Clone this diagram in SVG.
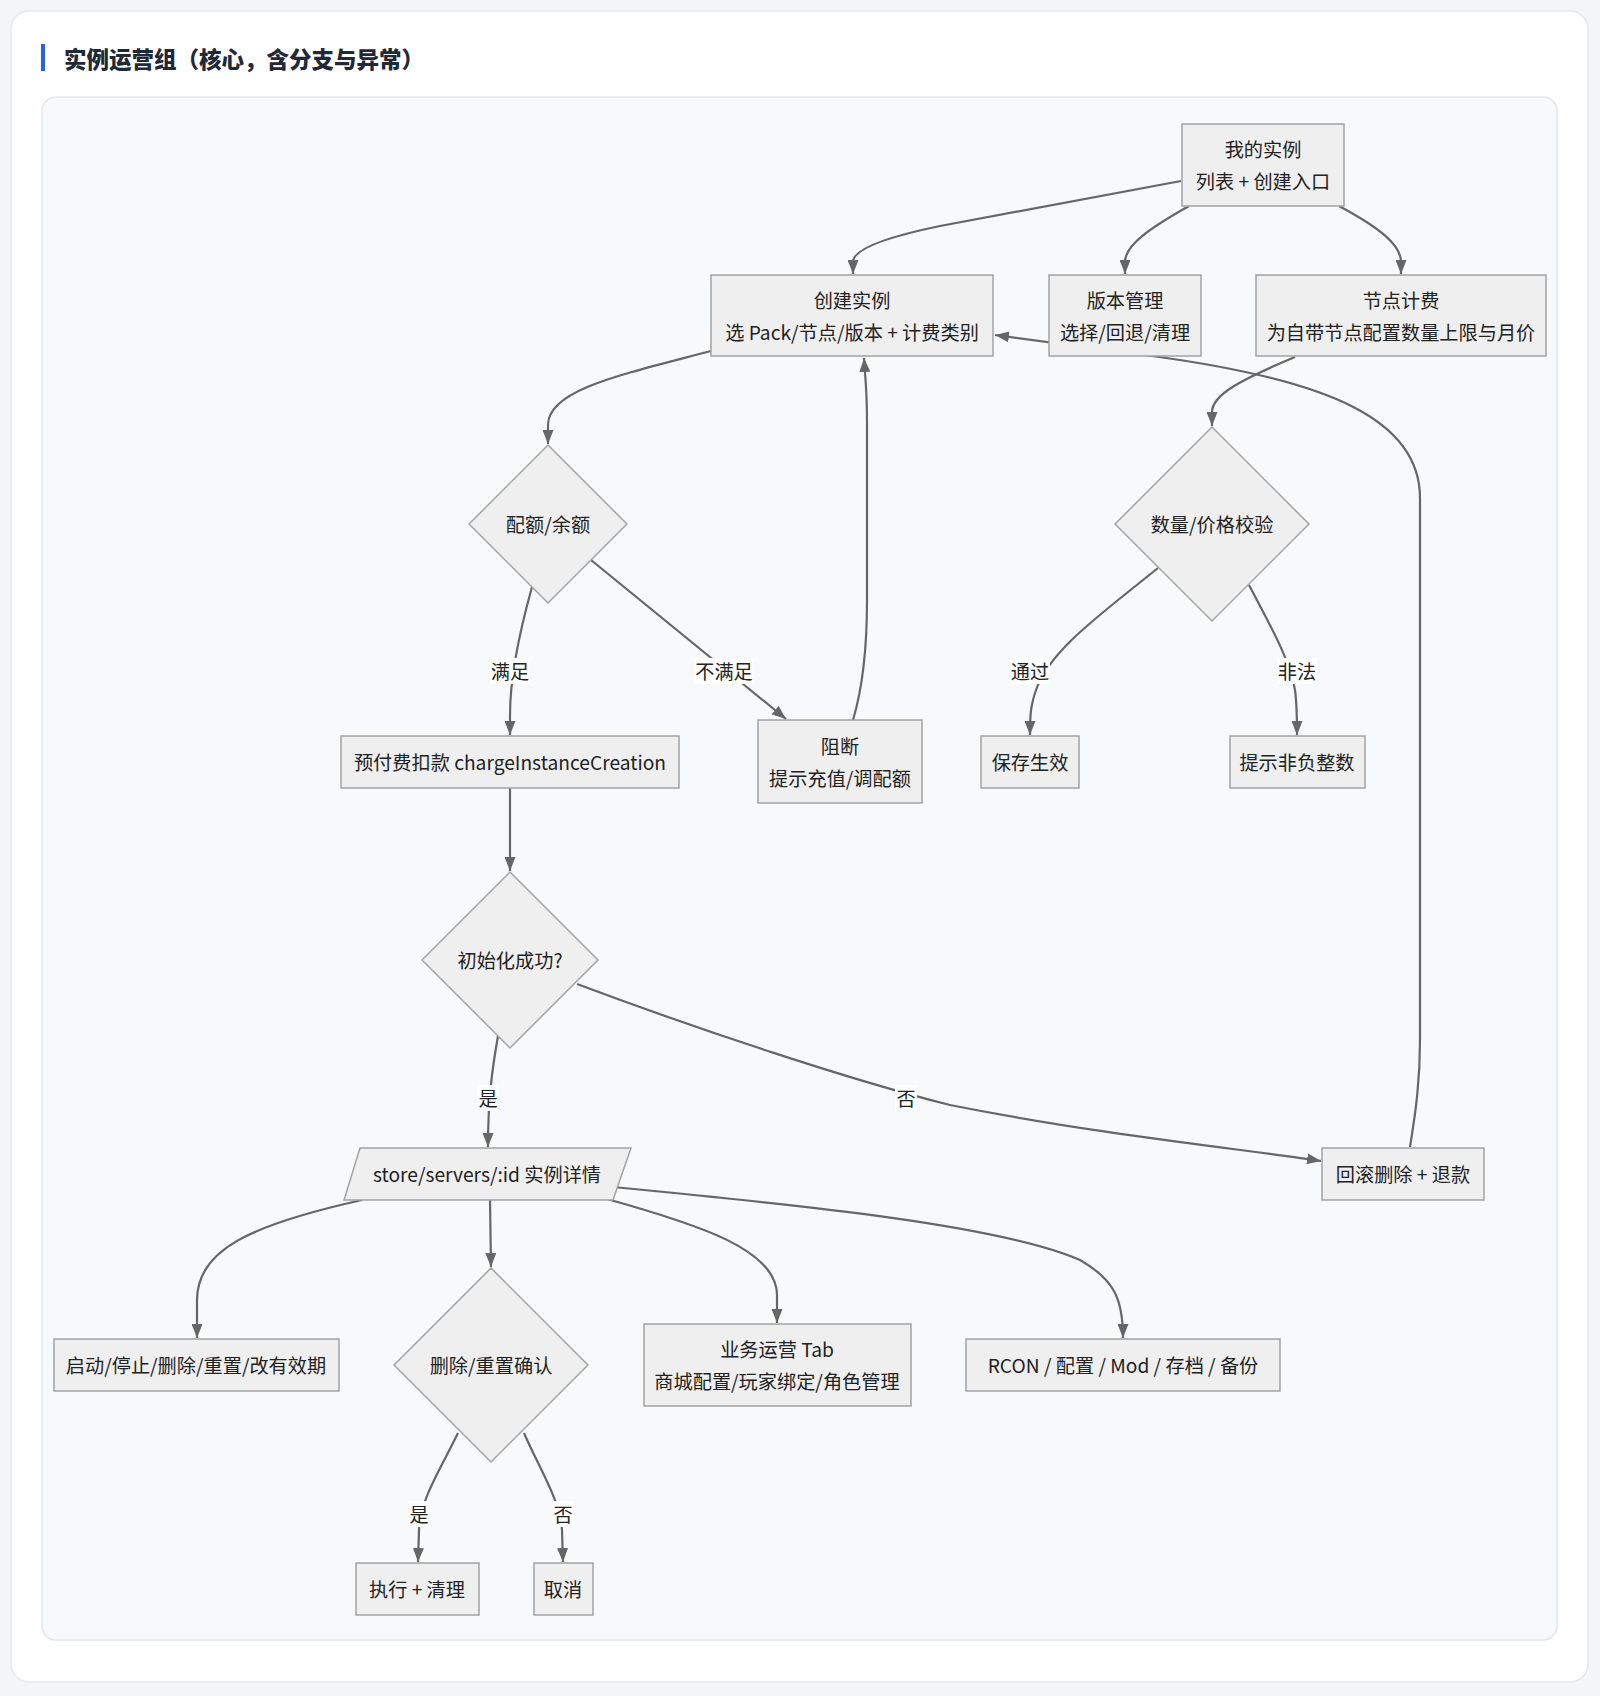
<svg xmlns="http://www.w3.org/2000/svg" width="1600" height="1696" viewBox="0 0 1600 1696">
<defs>
<style>
.node rect,.node polygon{fill:#efefef;stroke:#a3a3a3;stroke-width:1.5}
.t{font-family:"Noto Sans CJK SC","Noto Sans",sans-serif;font-size:19.2px;fill:#222;text-anchor:middle;dominant-baseline:central}
.e{fill:none;stroke:#666;stroke-width:2.2}
.lb{fill:#ffffff}
</style>
<marker id="arr" viewBox="0 0 14 11" refX="14" refY="5.5" markerWidth="14" markerHeight="11" markerUnits="userSpaceOnUse" orient="auto">
<path d="M0,0 L14,5.5 L0,11 z" fill="#666"/>
</marker>
</defs>
<rect x="0" y="0" width="1600" height="1696" fill="#f4f5f7"/>
<rect x="11" y="11" width="1577" height="1671" rx="18" fill="#ffffff" stroke="#e5e7eb" stroke-width="1.5"/>
<rect x="41" y="44" width="4" height="27" fill="#2563eb"/>
<text x="64" y="58" font-family="'Noto Sans CJK SC','Noto Sans',sans-serif" font-size="22.5" font-weight="900" fill="#1f2937" dominant-baseline="central">实例运营组（核心，含分支与异常）</text>
<rect x="42" y="97" width="1515" height="1543" rx="14" fill="#f8f9fb" stroke="#e5e7eb" stroke-width="1.5"/>

<g id="connectors">
<path class="e" d="M1181,181 L940,226 Q853,244 853,262 L853,274" marker-end="url(#arr)"/>
<path class="e" d="M1189,206 C1150,228 1125,245 1125,262 L1125,274" marker-end="url(#arr)"/>
<path class="e" d="M1339,206 C1380,228 1401,245 1401,262 L1401,274" marker-end="url(#arr)"/>
<path class="e" d="M1410,1147 C1416,1110 1420,1080 1420,1040 L1420,498 C1420,420 1330,380 1152,356 L995,335" marker-end="url(#arr)"/>
<path class="e" d="M1295,357 C1240,380 1212,395 1212,412 L1212,426" marker-end="url(#arr)"/>
<path class="e" d="M711,351 C620,375 548,390 548,425 L548,444" marker-end="url(#arr)"/>
<path class="e" d="M532,587 C520,630 510,680 510,715 L510,735" marker-end="url(#arr)"/>
<path class="e" d="M591,560 L786,719" marker-end="url(#arr)"/>
<path class="e" d="M853,720 C862,690 867,650 867,600 L867,420 C867,390 865,375 864,358" marker-end="url(#arr)"/>
<path class="e" d="M1158,568 C1100,615 1050,650 1036,690 C1031,705 1030,712 1030,735" marker-end="url(#arr)"/>
<path class="e" d="M1249,585 C1270,625 1290,660 1295,690 C1297,705 1297,712 1297,735" marker-end="url(#arr)"/>
<path class="e" d="M510,788 L510,871" marker-end="url(#arr)"/>
<path class="e" d="M498,1036 C492,1070 488,1100 488,1147" marker-end="url(#arr)"/>
<path class="e" d="M577,984 C700,1030 850,1080 950,1105 C1100,1135 1250,1150 1321,1161" marker-end="url(#arr)"/>
<path class="e" d="M362,1200 C250,1225 197,1250 197,1300 L197,1338" marker-end="url(#arr)"/>
<path class="e" d="M490,1200 L491,1267" marker-end="url(#arr)"/>
<path class="e" d="M607,1199 C700,1225 777,1250 777,1295 L777,1323" marker-end="url(#arr)"/>
<path class="e" d="M613,1187 C800,1205 1000,1225 1080,1260 C1115,1280 1123,1300 1123,1338" marker-end="url(#arr)"/>
<path class="e" d="M458,1433 C440,1470 420,1500 419,1530 L418,1562" marker-end="url(#arr)"/>
<path class="e" d="M524,1433 C540,1470 560,1500 562,1530 L563,1562" marker-end="url(#arr)"/>
<g id="edge-labels">
<rect class="lb" x="490" y="658" width="40" height="26"/><text class="t" x="510" y="671">满足</text>
<rect class="lb" x="694" y="658" width="60" height="26"/><text class="t" x="724" y="671">不满足</text>
<rect class="lb" x="1010" y="658" width="40" height="26"/><text class="t" x="1030" y="671">通过</text>
<rect class="lb" x="1277" y="658" width="40" height="26"/><text class="t" x="1297" y="671">非法</text>
<rect class="lb" x="477" y="1085" width="22" height="26"/><text class="t" x="488" y="1098">是</text>
<rect class="lb" x="895" y="1085" width="22" height="26"/><text class="t" x="906" y="1098">否</text>
<rect class="lb" x="408" y="1501" width="22" height="26"/><text class="t" x="419" y="1514">是</text>
<rect class="lb" x="552" y="1501" width="22" height="26"/><text class="t" x="563" y="1514">否</text>
</g>
</g>

<g id="n-my" class="node"><rect x="1182" y="124" width="162" height="82"/><text class="t" x="1263" y="149">我的实例</text><text class="t" x="1263" y="181">列表 + 创建入口</text></g>
<g id="n-create" class="node"><rect x="711" y="275" width="282" height="81"/><text class="t" x="852" y="300">创建实例</text><text class="t" x="852" y="332">选 Pack/节点/版本 + 计费类别</text></g>
<g id="n-version" class="node"><rect x="1049" y="275" width="152" height="81"/><text class="t" x="1125" y="300">版本管理</text><text class="t" x="1125" y="332">选择/回退/清理</text></g>
<g id="n-billing" class="node"><rect x="1256" y="275" width="290" height="81"/><text class="t" x="1401" y="300">节点计费</text><text class="t" x="1401" y="332">为自带节点配置数量上限与月价</text></g>
<g id="n-quota" class="node"><polygon points="548,445 627,524 548,603 469,524"/><text class="t" x="548" y="524">配额/余额</text></g>
<g id="n-validate" class="node"><polygon points="1212,427 1309,524 1212,621 1115,524"/><text class="t" x="1212" y="524">数量/价格校验</text></g>
<g id="n-charge" class="node"><rect x="341" y="736" width="338" height="52"/><text class="t" x="510" y="762">预付费扣款 chargeInstanceCreation</text></g>
<g id="n-block" class="node"><rect x="758" y="720" width="164" height="83"/><text class="t" x="840" y="746">阻断</text><text class="t" x="840" y="778">提示充值/调配额</text></g>
<g id="n-save" class="node"><rect x="981" y="736" width="98" height="52"/><text class="t" x="1030" y="762">保存生效</text></g>
<g id="n-hint" class="node"><rect x="1230" y="736" width="135" height="52"/><text class="t" x="1297" y="762">提示非负整数</text></g>
<g id="n-init" class="node"><polygon points="510,872 598,960 510,1048 422,960"/><text class="t" x="510" y="960">初始化成功?</text></g>
<g id="n-detail" class="node"><polygon points="360,1148 631,1148 613,1200 344,1200"/><text class="t" x="487" y="1174">store/servers/:id 实例详情</text></g>
<g id="n-rollback" class="node"><rect x="1322" y="1148" width="162" height="52"/><text class="t" x="1403" y="1174">回滚删除 + 退款</text></g>
<g id="n-ops" class="node"><rect x="54" y="1339" width="285" height="52"/><text class="t" x="196" y="1365">启动/停止/删除/重置/改有效期</text></g>
<g id="n-confirm" class="node"><polygon points="491,1268 588,1365 491,1462 394,1365"/><text class="t" x="491" y="1365">删除/重置确认</text></g>
<g id="n-biz" class="node"><rect x="644" y="1324" width="267" height="82"/><text class="t" x="777" y="1349">业务运营 Tab</text><text class="t" x="777" y="1381">商城配置/玩家绑定/角色管理</text></g>
<g id="n-rcon" class="node"><rect x="966" y="1339" width="314" height="52"/><text class="t" x="1123" y="1365">RCON / 配置 / Mod / 存档 / 备份</text></g>
<g id="n-exec" class="node"><rect x="356" y="1563" width="123" height="52"/><text class="t" x="417" y="1589">执行 + 清理</text></g>
<g id="n-cancel" class="node"><rect x="534" y="1563" width="59" height="52"/><text class="t" x="563" y="1589">取消</text></g>
</svg>
